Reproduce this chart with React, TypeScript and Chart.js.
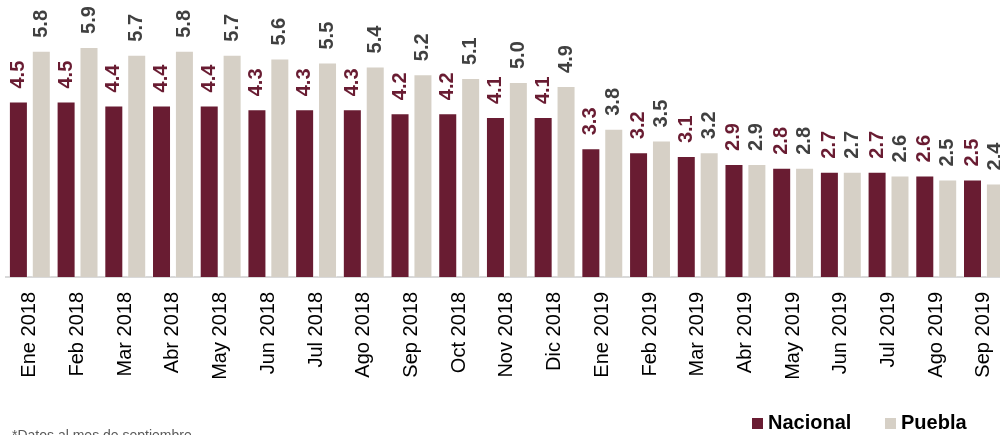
import React, { useEffect, useRef } from "react";
import { Chart, registerables } from "chart.js";

Chart.register(...registerables);

const categories = [
  "Ene 2018", "Feb 2018", "Mar 2018", "Abr 2018", "May 2018", "Jun 2018", "Jul 2018",
  "Ago 2018", "Sep 2018", "Oct 2018", "Nov 2018", "Dic 2018", "Ene 2019", "Feb 2019",
  "Mar 2019", "Abr 2019", "May 2019", "Jun 2019", "Jul 2019", "Ago 2019", "Sep 2019",
];
const nacional = [4.5, 4.5, 4.4, 4.4, 4.4, 4.3, 4.3, 4.3, 4.2, 4.2, 4.1, 4.1, 3.3, 3.2, 3.1, 2.9, 2.8, 2.7, 2.7, 2.6, 2.5];
const puebla = [5.8, 5.9, 5.7, 5.8, 5.7, 5.6, 5.5, 5.4, 5.2, 5.1, 5.0, 4.9, 3.8, 3.5, 3.2, 2.9, 2.8, 2.7, 2.6, 2.5, 2.4];
const seriesNames = ["Nacional", "Puebla"];
const footnote = "*Datos al mes de septiembre";

const MAROON = "#691C32";
const BEIGE = "#D6D0C6";
const LABEL_GRAY = "#404040";
const FONT = "'Liberation Sans', Arial, sans-serif";

const valueLabels = {
  id: "valueLabels",
  afterDatasetsDraw(chart: any) {
    const ctx = chart.ctx;
    chart.data.datasets.forEach((ds: any, i: number) => {
      const meta = chart.getDatasetMeta(i);
      meta.data.forEach((bar: any, j: number) => {
        const { x, y } = bar.getProps(["x", "y"], true);
        ctx.save();
        ctx.translate(x, y - 13);
        ctx.rotate(-Math.PI / 2);
        ctx.font = `bold 20px ${FONT}`;
        ctx.fillStyle = i === 0 ? MAROON : LABEL_GRAY;
        ctx.textAlign = "left";
        ctx.textBaseline = "middle";
        ctx.fillText(Number(ds.data[j]).toFixed(1), 0, 0);
        ctx.restore();
      });
    });
  },
};

const customLegend = {
  id: "customLegend",
  afterDraw(chart: any) {
    const ctx = chart.ctx;
    ctx.save();
    const items = [
      { name: seriesNames[0], color: MAROON, bx: 752, tx: 768 },
      { name: seriesNames[1], color: BEIGE, bx: 885, tx: 901 },
    ];
    items.forEach((it) => {
      ctx.fillStyle = it.color;
      ctx.fillRect(it.bx, 418, 11, 11);
      ctx.font = `bold 20px ${FONT}`;
      ctx.fillStyle = "#000";
      ctx.textAlign = "left";
      ctx.textBaseline = "alphabetic";
      ctx.fillText(it.name, it.tx, 429);
    });
    ctx.font = `14px ${FONT}`;
    ctx.fillStyle = "#595959";
    ctx.textBaseline = "top";
    ctx.fillText(footnote, 12, 429);
    ctx.restore();
  },
};

export default function App() {
  const ref = useRef<HTMLCanvasElement>(null);
  useEffect(() => {
    if (!ref.current) return;
    const chart = new Chart(ref.current, {
      type: "bar",
      data: {
        labels: categories,
        datasets: [
          {
            label: seriesNames[0],
            data: nacional,
            backgroundColor: MAROON,
            borderColor: "rgba(255,255,255,0.35)",
            borderWidth: 1,
            categoryPercentage: 0.96,
            barPercentage: 0.83,
          },
          {
            label: seriesNames[1],
            data: puebla,
            backgroundColor: BEIGE,
            borderColor: "rgba(255,255,255,0.35)",
            borderWidth: 1,
            categoryPercentage: 0.96,
            barPercentage: 0.83,
          },
        ],
      },
      options: {
        animation: false,
        responsive: false,
        layout: { padding: { left: 6, right: 2, top: 4, bottom: 48 } },
        plugins: { legend: { display: false }, tooltip: { enabled: false } },
        scales: {
          x: {
            grid: { display: false, drawTicks: false },
            border: { display: true, color: "#D9D9D9", width: 2 },
            ticks: {
              color: "#000",
              font: { family: FONT, size: 20 },
              minRotation: 90,
              maxRotation: 90,
              padding: 15,
              autoSkip: false,
            },
            afterFit(scale: any) {
              scale.height = 110;
            },
          },
          y: { display: false, min: 0, max: 7 },
        },
      },
      plugins: [valueLabels, customLegend],
    });
    return () => chart.destroy();
  }, []);
  return (
    <div style={{ position: "absolute", left: 0, top: 0, width: 1000, height: 435, overflow: "hidden", background: "#fff" }}>
      <canvas ref={ref} width={1023} height={435} style={{ display: "block" }} />
    </div>
  );
}
